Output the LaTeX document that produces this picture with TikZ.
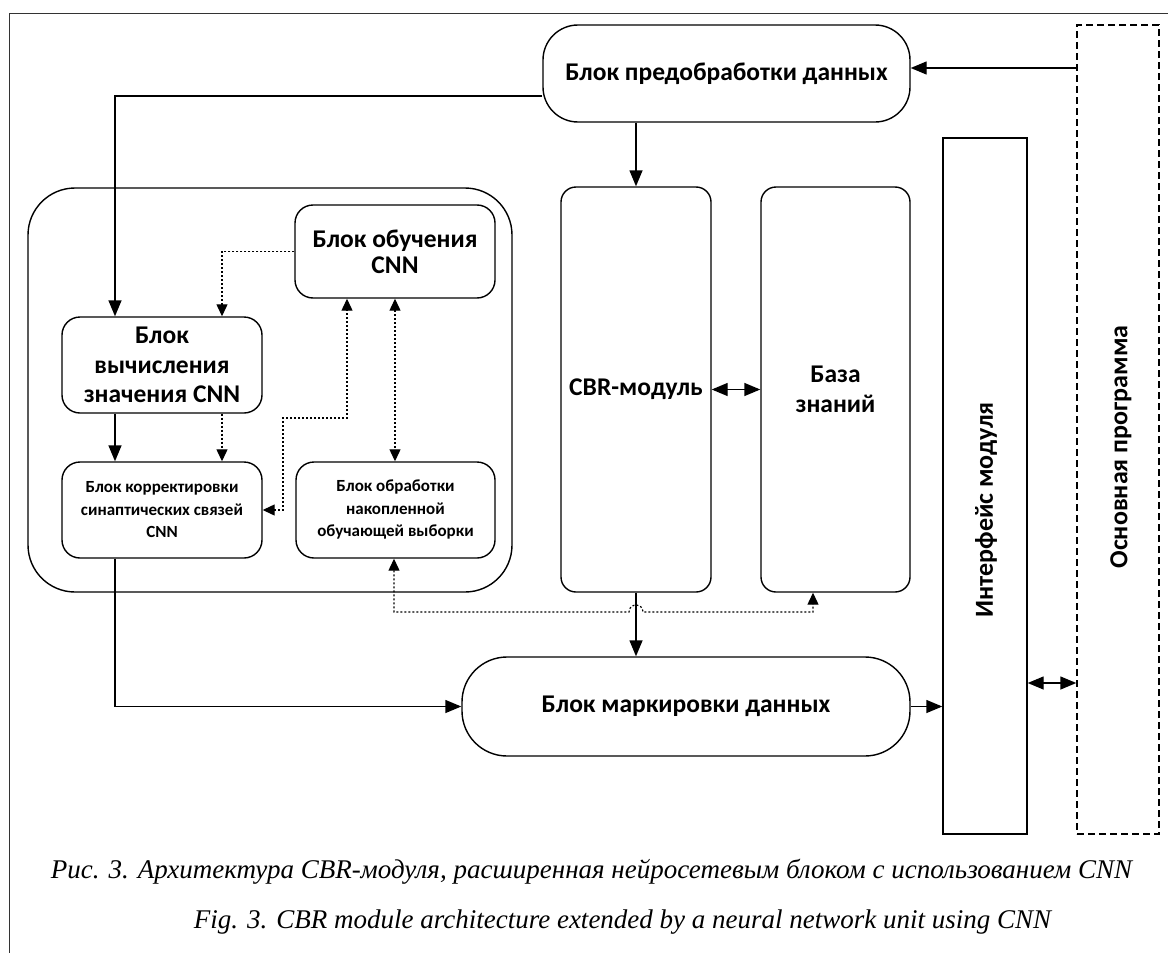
\documentclass[tikz,border=0pt]{standalone}
\usepackage{fontspec}
\setmainfont{Liberation Serif}
\newfontfamily\carl{Carlito}
\usetikzlibrary{arrows.meta,calc}
\begin{document}
\begin{tikzpicture}[x=1pt,y=-1pt,
  lw/.style={line width=1.4pt},
  box/.style={draw,lw,align=center,inner sep=0pt,font=\carl\bfseries\fontsize{25.5}{29.5}\selectfont},
  small/.style={font=\carl\bfseries\fontsize{17}{22.5}\selectfont},
  arr/.style={lw,-{Triangle[length=16pt,width=13pt]}},
  darr/.style={lw,{Triangle[length=16pt,width=13pt]}-{Triangle[length=16pt,width=13pt]}},
  dotl/.style={line width=1.2pt,dash pattern=on 2pt off 2pt},
  darrs/.style={dotl,-{Triangle[length=12pt,width=11pt]}},
  ddarrs/.style={dotl,{Triangle[length=12pt,width=11pt]}-{Triangle[length=12pt,width=11pt]}},
  vtext/.style={rotate=90,font=\carl\bfseries\fontsize{26}{30}\selectfont}
]
\useasboundingbox (0,0) rectangle (1168,953);
% frame
\draw[line width=1pt,black!80] (9.5,953) -- (9.5,13) -- (1168,13);

% nodes
\node[box,rounded corners=35pt,minimum width=367pt,minimum height=97pt] (pre) at (726.5,73.5) {Блок предобработки данных};
\node[box,dash pattern=on 7pt off 4pt,minimum width=82pt,minimum height=809pt] (main) at (1118,429.5) {};
\node[vtext] (maint) at (1121,447) {Основная программа};
\node[box,minimum width=84pt,minimum height=696pt] (iface) at (985,486) {};
\node[vtext] (ifacet) at (986,510) {Интерфейс модуля};
\node[box,rounded corners=15pt,minimum width=150pt,minimum height=405pt] (cbr) at (636,389.5) {CBR-модуль};
\node[box,rounded corners=15pt,minimum width=149pt,minimum height=405pt] (kb) at (835.5,389.5) {База\\знаний};
\node[box,rounded corners=45pt,minimum width=448pt,minimum height=99pt] (mark) at (686,706.5) {Блок маркировки данных};
\node[box,rounded corners=47pt,minimum width=484pt,minimum height=404pt] (cont) at (270,390) {};
\node[box,rounded corners=18pt,minimum width=200pt,minimum height=93pt,font=\carl\bfseries\fontsize{25.5}{26}\selectfont] (train) at (395,251.5) {Блок обучения\\CNN};
\node[box,rounded corners=18pt,minimum width=200pt,minimum height=96pt] (calc) at (162,365) {Блок\\вычисления\\значения CNN};
\node[box,small,rounded corners=18pt,minimum width=200pt,minimum height=96pt] (corr) at (162,510) {Блок корректировки\\синаптических связей\\CNN};
\node[box,small,rounded corners=18pt,minimum width=199pt,minimum height=96pt] (proc) at (395.5,510) {Блок обработки\\накопленной\\обучающей выборки};

% caption
\node[font=\itshape\fontsize{27}{32}\selectfont,inner sep=0pt] (cap1) at (591.5,872) {Рис. 3. Архитектура CBR-модуля, расширенная нейросетевым блоком с использованием CNN};
\node[font=\itshape\fontsize{27}{32}\selectfont,inner sep=0pt] (cap2) at (622.5,922) {Fig. 3. CBR module architecture extended by a neural network unit using CNN};

% connectors
\draw[arr] (main.west |- 0,68) -- (pre.east |- 0,68);
\draw[arr] (pre.west |- 0,96) -| ([xshift=-47pt]calc.north);
\draw[arr] (pre.south -| cbr.north) -- (cbr.north);
\draw[arr] (cbr.south) -- (cbr.south |- mark.north);
\draw[darr] (cbr.east) -- (kb.west);
\draw[arr] (mark.east) -- (mark.east -| iface.west);
\draw[darr] (iface.east |- 0,683) -- (main.west |- 0,683);
\draw[darrs] (train.west) -| ([xshift=60pt]calc.north);
\draw[arr] ([xshift=-47pt]calc.south) -- ([xshift=-47pt]corr.north);
\draw[darrs] ([xshift=60pt]calc.south) -- ([xshift=60pt]corr.north);
\draw[ddarrs] (corr.east) -| (283,418) -| ([xshift=-48pt]train.south);
\draw[ddarrs] (train.south) -- (train.south |- proc.north);
\draw[arr] ([xshift=-47pt]corr.south) |- (mark.west);
\draw[ddarrs] ([xshift=-1.5pt]proc.south) -- ([xshift=-1.5pt]proc.south |- 0,612) -- (629,612)
  .. controls (629,602.7) and (643,602.7) .. (643,612) -- (813,612) -- ([xshift=-22.5pt]kb.south);
\end{tikzpicture}
\end{document}
